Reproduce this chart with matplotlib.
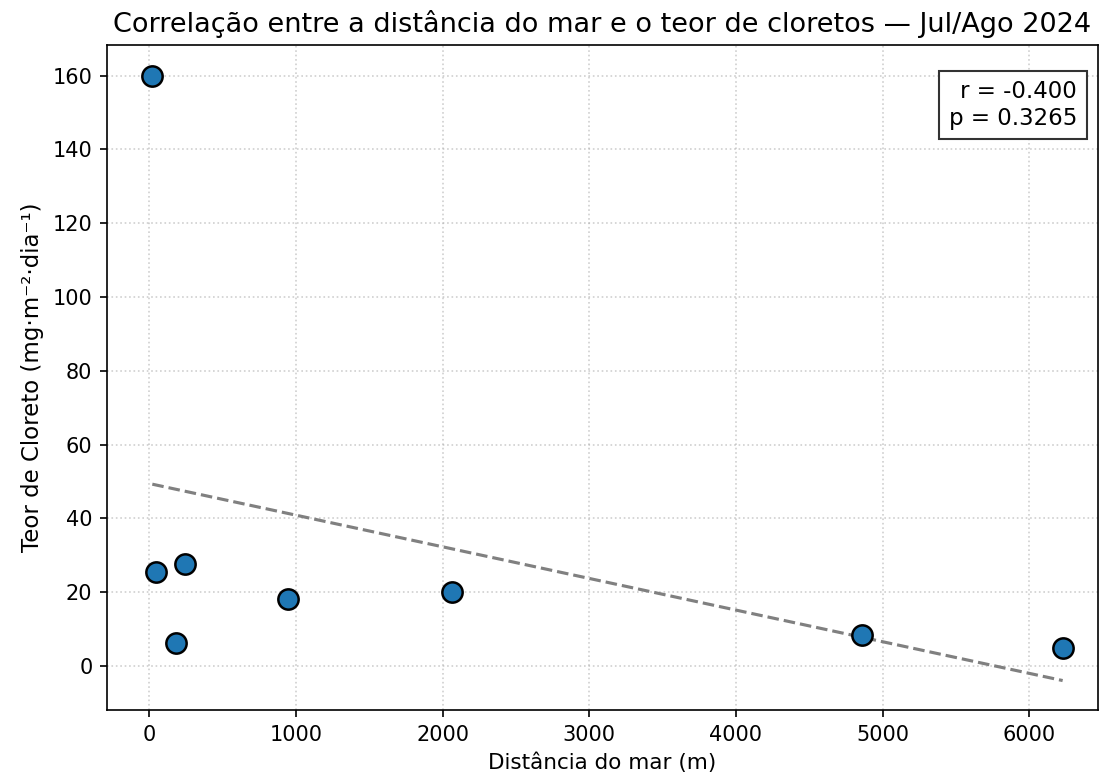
import numpy as np
import matplotlib
matplotlib.use("Agg")
import matplotlib.pyplot as plt

# distance to the sea (m) and chloride deposition (mg/m2/day), Jul/Aug 2024
distancia = np.array([20, 43, 245, 179, 945, 2067, 4857, 6228])
cloreto = np.array([160.0, 25.4, 27.6, 6.2, 18.2, 20.1, 8.4, 4.8])
r_txt = "r = -0.400"
p_txt = "p = 0.3265"

# === figure ===
fig = plt.figure(figsize=(1100 / 150, 780 / 150), dpi=150)
ax = fig.add_axes([107 / 1100, 1 - 710 / 780, (1098 - 107) / 1100, (710 - 45) / 780])

ax.scatter(distancia, cloreto, s=95, color="#1f77b4", edgecolor="black",
           linewidth=1.2, zorder=3)

# linear fit
a, b = np.polyfit(distancia, cloreto, 1)
xs = np.array([distancia.min(), distancia.max()])
ax.plot(xs, a * xs + b, linestyle="--", color="gray", linewidth=1.5, zorder=2)

ax.text(0.979, 0.947, r_txt + "\n" + p_txt, transform=ax.transAxes,
        ha="right", va="top", multialignment="right", fontsize=11,
        bbox=dict(boxstyle="square,pad=0.42", facecolor="white",
                  edgecolor="#333333", linewidth=1.0))

ax.set_xlim(-289, 6469)
ax.set_ylim(-11.9, 168.3)
ax.set_yticks(np.arange(0, 161, 20))
ax.set_title("Correlação entre a distância do mar e o teor de cloretos — Jul/Ago 2024",
             fontsize=13)
ax.set_xlabel("Distância do mar (m)", fontsize=10.3)
ax.set_ylabel("Teor de Cloreto (mg·m⁻²·dia⁻¹)", fontsize=11)
ax.grid(True, linestyle=":", alpha=0.6)

fig.savefig("out.png", dpi=150)
